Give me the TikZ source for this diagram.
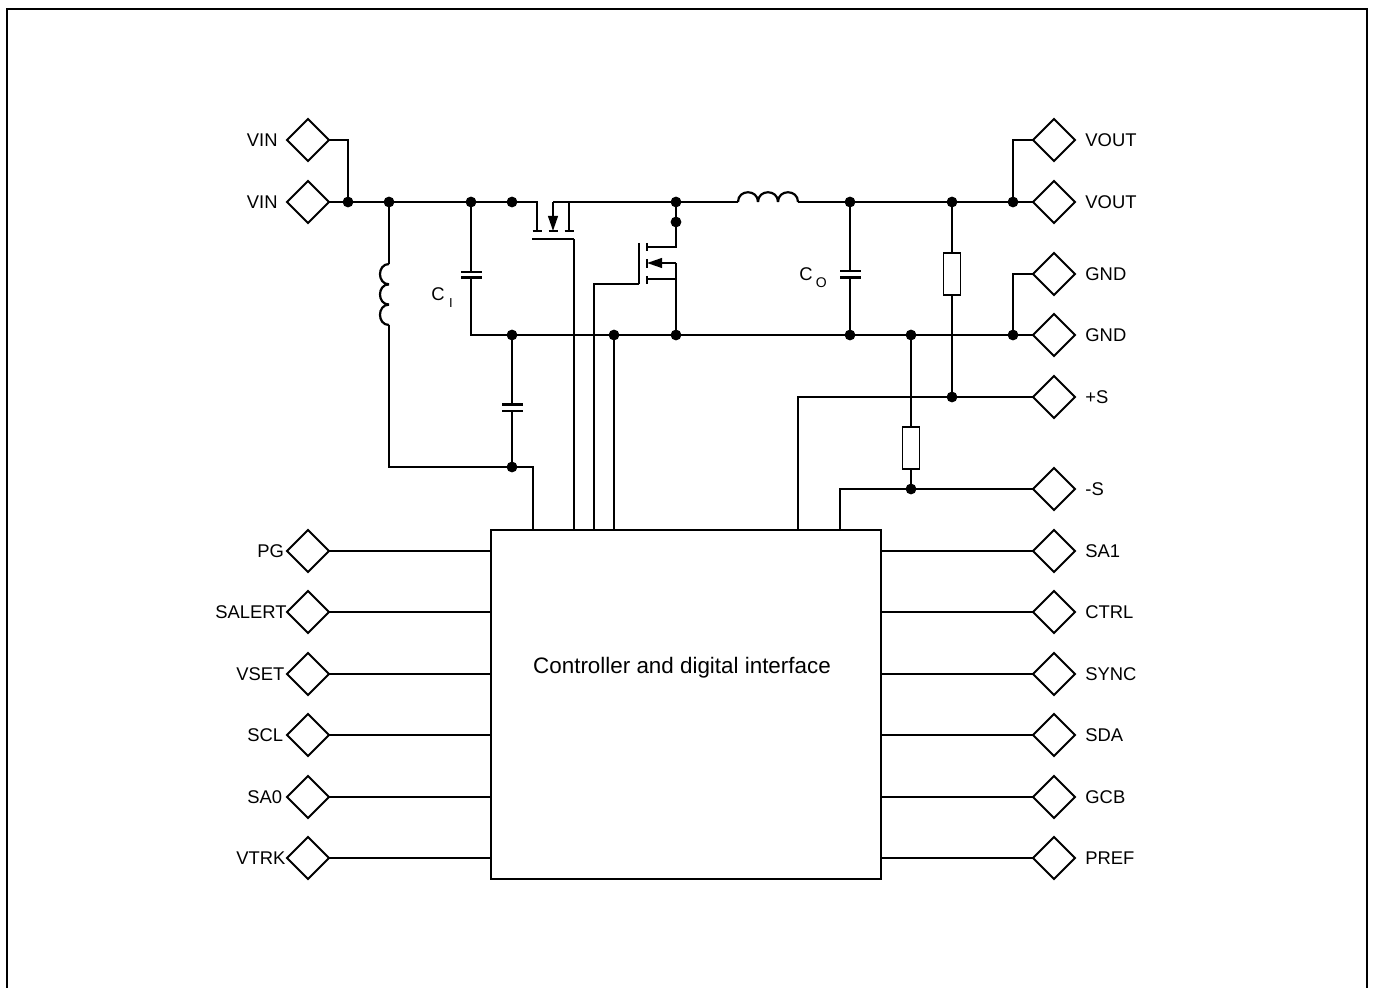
\documentclass[tikz,border=0pt]{standalone}
\usepackage{fontspec}
\setmainfont{Liberation Sans}
\usetikzlibrary{shapes.geometric,arrows.meta}
\tikzset{
    wire/.style={line width=1.1pt,line join=miter},
    port/.style={diamond,draw,line width=0.95pt,minimum size=21pt,inner sep=0pt,outer sep=0pt},
    dot/.style={circle,fill,minimum size=5.4pt,inner sep=0pt,outer sep=0pt},
    plate/.style={fill,minimum width=10.5pt,minimum height=1.1pt,inner sep=0pt,outer sep=0pt},
    res/.style={draw,line width=0.95pt,minimum width=8.5pt,minimum height=21pt,inner sep=0pt,outer sep=0pt},
    lbl/.style={anchor=west,inner sep=0pt,font=\fontsize{9.2}{11}\selectfont},
    fetarrow/.style={wire,-{Triangle[length=7.5pt,width=4.8pt]}},
}
\begin{document}
\begin{tikzpicture}[x=0.5pt,y=-0.5pt]
    \useasboundingbox (0,0) rectangle (1376,988);
    % frame
    \coordinate (fa) at (7,988);
    \coordinate (fb) at (7,9);
    \coordinate (fc) at (1367,9);
    \coordinate (fd) at (1367,988);
    \draw[line width=1.25pt] (fa) -- (fb) -- (fc) -- (fd);

    % ports left
    \foreach \name/\y/\txt/\lx in {pVINa/140/VIN/246.5,pVINb/202/VIN/246.5,pPG/551/PG/257,pSALERT/612/SALERT/215,pVSET/674/VSET/236,pSCL/735/SCL/247,pSAz/797/SA0/247,pVTRK/858/VTRK/236}{
        \node[port] (\name) at (308,\y) {};
        \node[lbl] (\name txt) at (\lx,\y) {\txt};
    }
    % ports right
    \foreach \name/\y/\txt in {pVOUTa/140/VOUT,pVOUTb/202/VOUT,pGNDa/274/GND,pGNDb/335/GND,pSp/397/+S,pSm/489/-S,pSAo/551/SA1,pCTRL/612/CTRL,pSYNC/674/SYNC,pSDA/735/SDA,pGCB/797/GCB,pPREF/858/PREF}{
        \node[port] (\name) at (1054,\y) {};
        \node[lbl] (\name txt) at (1085,\y) {\txt};
    }

    % block
    \node[draw,line width=1.1pt,minimum width=195pt,minimum height=174.5pt,inner sep=0pt,outer sep=0pt] (block) at (686,704.5) {};
    \node[inner sep=0pt,font=\fontsize{11.2}{13}\selectfont] (blocktxt) at (682,668) {Controller and digital interface};
    \foreach \name in {pPG,pSALERT,pVSET,pSCL,pSAz,pVTRK}
        \draw[wire] (\name.east) -- (\name.east -| block.west);
    \foreach \name in {pSAo,pCTRL,pSYNC,pSDA,pGCB,pPREF}
        \draw[wire] (\name.west) -- (\name.west -| block.east);

    % junctions
    \foreach \name/\x/\y in {jVin/348/202,jL/389/202,jCi/471/202,jTop/512/202,jSw/676/202,jSwb/676/222,jCo/850/202,jR/952/202,jVout/1013/202,jGa/512/335,jGb/614/335,jGc/676/335,jGd/850/335,jGe/911/335,jGnd/1013/335,jSp/952/397,jSm/911/489,jLow/512/467}
        \node[dot] (\name) at (\x,\y) {};

    % points on the block
    \foreach \name/\x in {ta/533,tb/574,tc/594,td/614,te/798,tf/840}
        \coordinate (\name) at (\x,530);

    % capacitors, resistors
    \node[plate] (ciA) at (471,272) {};
    \node[plate] (ciB) at (471,277.5) {};
    \node[plate] (cbA) at (512,404.5) {};
    \node[plate] (cbB) at (512,411) {};
    \node[plate] (coA) at (850,271) {};
    \node[plate] (coB) at (850,277.5) {};
    \node[res] (ra) at (952,274) {};
    \node[res] (rb) at (911,448) {};
    \node[inner sep=0pt,anchor=west,font=\fontsize{9.2}{11}\selectfont] (citxt) at (431,297.5) {C\hspace{2.2pt}\raisebox{-3.5pt}{\fontsize{6.5}{7}\selectfont I}};
    \node[inner sep=0pt,anchor=west,font=\fontsize{9.2}{11}\selectfont] (cotxt) at (799,278) {C\hspace{1.6pt}\raisebox{-3.5pt}{\fontsize{7}{8}\selectfont O}};

    % input and output rails
    \coordinate (hsD) at (537,202);
    \coordinate (hsDe) at (537,231);
    \coordinate (hsS) at (553,202);
    \coordinate (hsSe) at (553,231);
    \coordinate (hsB) at (569,202);
    \coordinate (hsBe) at (569,231);
    \coordinate (laL) at (738,202);
    \coordinate (laR) at (798,202);
    \coordinate (lbT) at (389,264);
    \coordinate (lbB) at (389,325);
    \draw[wire] (pVINa.east) -| (jVin);
    \draw[wire] (pVINb.east) -- (hsD) -- (hsDe);
    \draw[fetarrow] (hsS) -- (hsSe);
    \draw[wire] (hsB) -- (hsBe);
    \draw[wire] (hsS) -- (laL);
    \draw[wire] (laR) -- (pVOUTb.west);
    \draw[wire] (pVOUTa.west) -| (jVout);
    \draw[wire] (ciB) |- (pGNDb.west);
    \draw[wire] (pGNDa.west) -| (jGnd);

    % inductors
    \foreach \a/\b in {738/758,758/778,778/798}
        \draw[wire] (\a,202) .. controls (\a,189) and (\b,189) .. (\b,202);
    \foreach \a/\b in {264/284.3,284.3/304.6,304.6/325}
        \draw[wire] (389,\a) .. controls (377,\a) and (377,\b) .. (389,\b);

    % fet bars
    \foreach \x in {537,553,569}
        \draw[wire] (\x-4.5,231) -- (\x+4.5,231);
    \draw[wire] (532,239) -- (574,239);
    \draw[wire] (639,243) -- (639,284);
    \foreach \a/\b in {243/251,259/268,276/284}
        \draw[wire] (647,\a) -- (647,\b);

    % low side fet
    \coordinate (lsD) at (647,247);
    \coordinate (lsM) at (647,263);
    \coordinate (lsMr) at (676,263);
    \coordinate (lsB) at (647,279);
    \coordinate (lsBr) at (676,279);
    \coordinate (lsG) at (639,284);
    \coordinate (hsG) at (574,239);
    \draw[wire] (jSw) -- (jSwb) |- (lsD);
    \draw[fetarrow] (lsMr) -- (lsM);
    \draw[wire] (lsMr) -- (jGc);
    \draw[wire] (lsB) -- (lsBr);
    \draw[wire] (lsG) -| (tc);
    \draw[wire] (hsG) -- (tb);
    \draw[wire] (jGb) -- (td);

    % passive branches
    \draw[wire] (jL) -- (lbT);
    \draw[wire] (lbB) |- (jLow);
    \draw[wire] (jLow) -| (ta);
    \draw[wire] (jCi) -- (ciA);
    \draw[wire] (jGa) -- (cbA);
    \draw[wire] (cbB) -- (jLow);
    \draw[wire] (jCo) -- (coA);
    \draw[wire] (coB) -- (jGd);
    \draw[wire] (jR) -- (ra);
    \draw[wire] (ra) -- (jSp);
    \draw[wire] (jGe) -- (rb);
    \draw[wire] (rb) -- (jSm);
    \draw[wire] (pSp.west) -- (jSp) -| (te);
    \draw[wire] (pSm.west) -- (jSm) -| (tf);
\end{tikzpicture}
\end{document}
